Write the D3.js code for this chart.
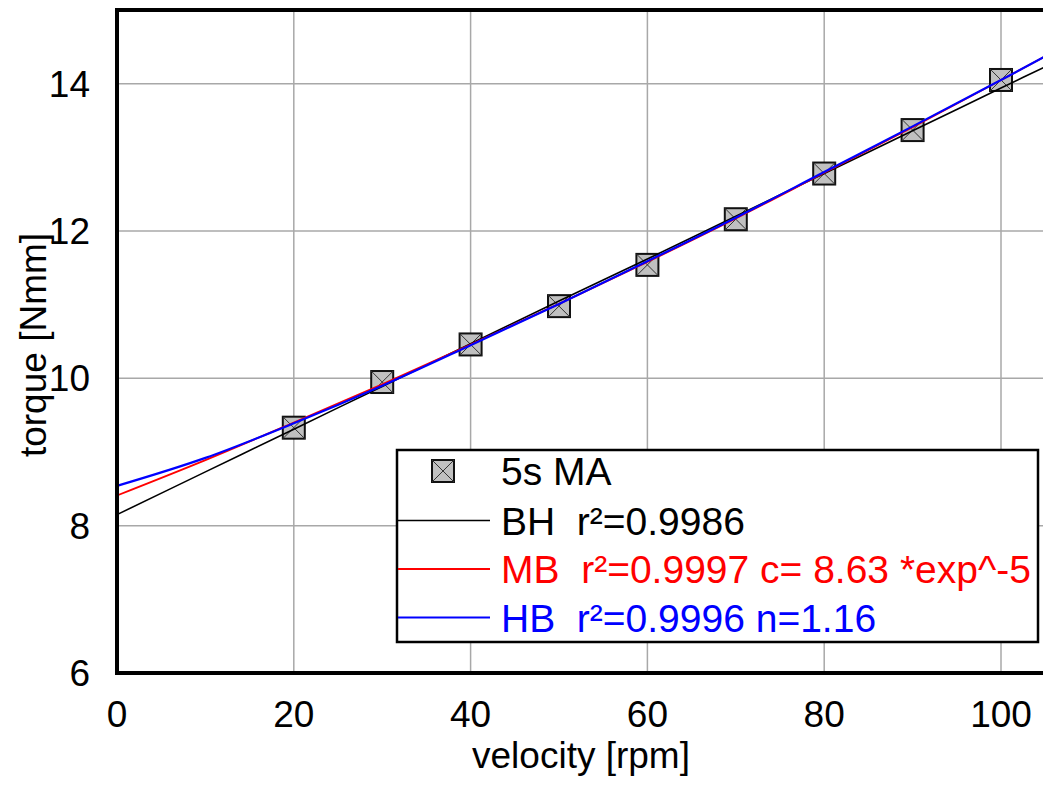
<!DOCTYPE html>
<html>
<head>
<meta charset="utf-8">
<script src="https://cdn.jsdelivr.net/npm/d3@7"></script>
<style>
  html, body { margin: 0; padding: 0; background: #fff; }
  svg { display: block; }
  text { font-family: "Liberation Sans", Arial, sans-serif; white-space: pre; }
</style>
</head>
<body>
<svg id="chart" width="1043" height="792"></svg>
<script>
// ---- data ----
const velocity = [20, 30, 40, 50, 60, 70, 80, 90, 100];
const torqueMA = [9.33, 9.95, 10.46, 10.98, 11.54, 12.16, 12.78, 13.37, 14.05];

const fitVelocity = [0, 10, 20, 30, 40, 50, 60, 70, 80, 90, 100, 105];
const fitBH = [8.15, 8.73, 9.31, 9.89, 10.47, 11.05, 11.62, 12.20, 12.78, 13.36, 13.94, 14.23];
const fitMB = [8.41, 8.89, 9.40, 9.92, 10.46, 11.01, 11.58, 12.17, 12.79, 13.41, 14.05, 14.37];
const fitHB = [8.54, 8.92, 9.39, 9.90, 10.45, 11.01, 11.59, 12.18, 12.80, 13.42, 14.05, 14.37];

const xTicks = [0, 20, 40, 60, 80, 100];
const yTicks = [6, 8, 10, 12, 14];

const legendLabels = ["5s MA", "BH  r\u00B2=0.9986", "MB  r\u00B2=0.9997 c= 8.63 *exp^-5", "HB  r\u00B2=0.9996 n=1.16"];
const legendColors = ["#000000", "#000000", "#ff0000", "#0000ff"];

// ---- layout ----
const svg = d3.select("#chart");
const pLeft = 117, pTop = 10, pBottom = 673;
const x = d3.scaleLinear().domain([0, 105]).range([pLeft, pLeft + 105 * 8.84]);
const y = d3.scaleLinear().domain([6, 15]).range([pBottom, pTop]);

// grid
const grid = svg.append("g");
grid.selectAll("line.v").data(xTicks.filter(d => d > 0)).enter().append("line")
  .attr("x1", d => x(d)).attr("x2", d => x(d)).attr("y1", pTop).attr("y2", pBottom)
  .attr("stroke", "#a8a8a8").attr("stroke-width", 1.5);
grid.selectAll("line.h").data(yTicks.filter(d => d > 6)).enter().append("line")
  .attr("x1", pLeft).attr("x2", 1043).attr("y1", d => y(d)).attr("y2", d => y(d))
  .attr("stroke", "#a8a8a8").attr("stroke-width", 1.5);

// markers
function marker(g, cx, cy, s) {
  g.append("rect").attr("x", cx - s / 2).attr("y", cy - s / 2).attr("width", s).attr("height", s)
    .attr("fill", "#c0c0c0").attr("stroke", "#111").attr("stroke-width", 2);
  g.append("line").attr("x1", cx - s / 2).attr("y1", cy - s / 2).attr("x2", cx + s / 2).attr("y2", cy + s / 2)
    .attr("stroke", "#333").attr("stroke-width", 1);
  g.append("line").attr("x1", cx - s / 2).attr("y1", cy + s / 2).attr("x2", cx + s / 2).attr("y2", cy - s / 2)
    .attr("stroke", "#333").attr("stroke-width", 1);
}
const mg = svg.append("g");
velocity.forEach((v, i) => marker(mg, x(v), y(torqueMA[i]), 22));

// fit lines
const line = d3.line().x(d => x(d[0])).y(d => y(d[1])).curve(d3.curveMonotoneX);
const fits = [[fitBH, "#000000", 1.6], [fitMB, "#ff0000", 1.8], [fitHB, "#0000ff", 2.2]];
fits.forEach(([vals, col, w]) => {
  svg.append("path").datum(fitVelocity.map((v, i) => [v, vals[i]]))
    .attr("d", line).attr("fill", "none").attr("stroke", col).attr("stroke-width", w);
});

// frame
svg.append("line").attr("x1", pLeft).attr("x2", pLeft).attr("y1", pTop - 2).attr("y2", pBottom + 2)
  .attr("stroke", "#000").attr("stroke-width", 4);
svg.append("line").attr("x1", pLeft - 2).attr("x2", 1043).attr("y1", pTop).attr("y2", pTop)
  .attr("stroke", "#000").attr("stroke-width", 4);
svg.append("line").attr("x1", pLeft - 2).attr("x2", 1043).attr("y1", pBottom).attr("y2", pBottom)
  .attr("stroke", "#000").attr("stroke-width", 4);

// tick labels
svg.append("g").selectAll("text").data(xTicks).enter().append("text")
  .attr("x", d => x(d)).attr("y", 727).attr("text-anchor", "middle")
  .attr("font-size", 37).attr("fill", "#000").text(d => d);
svg.append("g").selectAll("text").data(yTicks).enter().append("text")
  .attr("x", 90).attr("y", d => y(d) + 13).attr("text-anchor", "end")
  .attr("font-size", 37).attr("fill", "#000").text(d => d);

// axis titles
svg.append("text").attr("x", 581).attr("y", 768).attr("text-anchor", "middle")
  .attr("font-size", 37).text("velocity [rpm]");
svg.append("text").attr("transform", "translate(46,345) rotate(-90)").attr("text-anchor", "middle")
  .attr("font-size", 37).text("torque [Nmm]");

// legend
const lg = svg.append("g");
lg.append("rect").attr("x", 397).attr("y", 450).attr("width", 641).attr("height", 192)
  .attr("fill", "#fff").attr("stroke", "#000").attr("stroke-width", 2.5);
const rowY = [471, 520.5, 569, 617.5];
marker(lg, 443, rowY[0], 22);
[[1, 1.6], [2, 1.8], [3, 2.2]].forEach(([i, w]) => {
  lg.append("line").attr("x1", 398).attr("x2", 490).attr("y1", rowY[i]).attr("y2", rowY[i])
    .attr("stroke", legendColors[i]).attr("stroke-width", w);
});
legendLabels.forEach((t, i) => {
  lg.append("text").attr("x", 501).attr("y", rowY[i] + 14).attr("font-size", 39)
    .attr("fill", legendColors[i]).text(t);
});
</script>
</body>
</html>
